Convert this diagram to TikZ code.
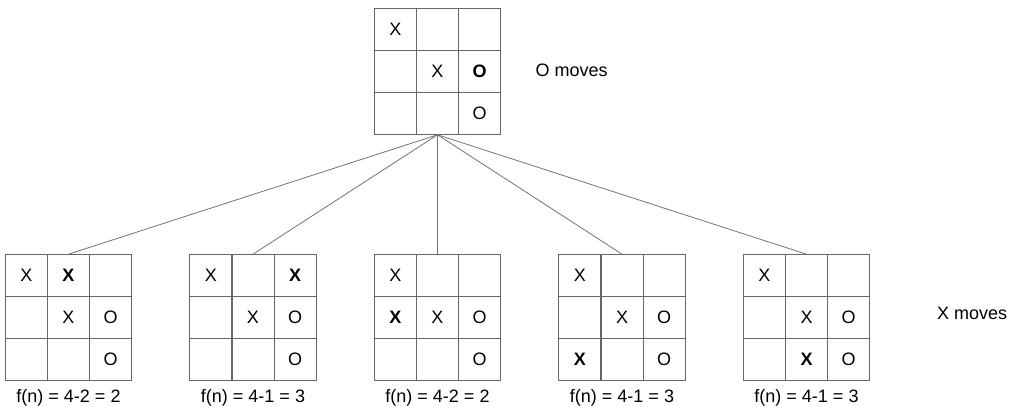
\documentclass[tikz,border=0pt]{standalone}
\usepackage{fontspec}
\setmainfont{Liberation Sans}
\usetikzlibrary{matrix,positioning}

\begin{document}
\begin{tikzpicture}[
    x=1pt, y=1pt,
    cell/.style={rectangle, draw=black!60, line width=1.2pt, minimum size=42.2pt, inner sep=0pt, outer sep=0pt, anchor=center, font=\fontsize{18}{20}\selectfont},
    board/.style={matrix of nodes, nodes in empty cells, inner sep=0pt, outer sep=0pt, column sep=-1.2pt, row sep=-1.2pt, nodes={cell}},
    link/.style={draw=black!55, line width=0.8pt},
    caption/.style={font=\fontsize{18}{20}\selectfont}
]
\useasboundingbox (0,0) rectangle (1021,407);

% current position
\matrix[board] (top) at (437.5,335.5) {
X & & \\
& X & \textbf{O} \\
& & O \\
};
\node[caption, anchor=west] (omove) at (532,337) {O moves};

% successors
\matrix[board] (b1) at (68.5,89.5) {
X & \textbf{X} & \\
& X & O \\
& & O \\
};
\matrix[board] (b2) at (253,89.5) {
X & & \textbf{X} \\
& X & O \\
& & O \\
};
\matrix[board] (b3) at (437.5,89.5) {
X & & \\
\textbf{X} & X & O \\
& & O \\
};
\matrix[board] (b4) at (622,89.5) {
X & & \\
& X & O \\
\textbf{X} & & O \\
};
\matrix[board] (b5) at (806.5,89.5) {
X & & \\
& X & O \\
& \textbf{X} & O \\
};
\node[caption, anchor=west] (xmove) at (933.5,94) {X moves};

\coordinate (base) at (0,9);
\foreach \i/\v in {1/4-2 = 2, 2/4-1 = 3, 3/4-2 = 2, 4/4-1 = 3, 5/4-1 = 3}
    \node[caption] (f\i) at (b\i-1-2.center |- base) {f(n) = \v};

\foreach \i in {1,...,5}
    \draw[link] (top-3-2.south) -- (b\i-1-2.north);

\end{tikzpicture}
\end{document}
